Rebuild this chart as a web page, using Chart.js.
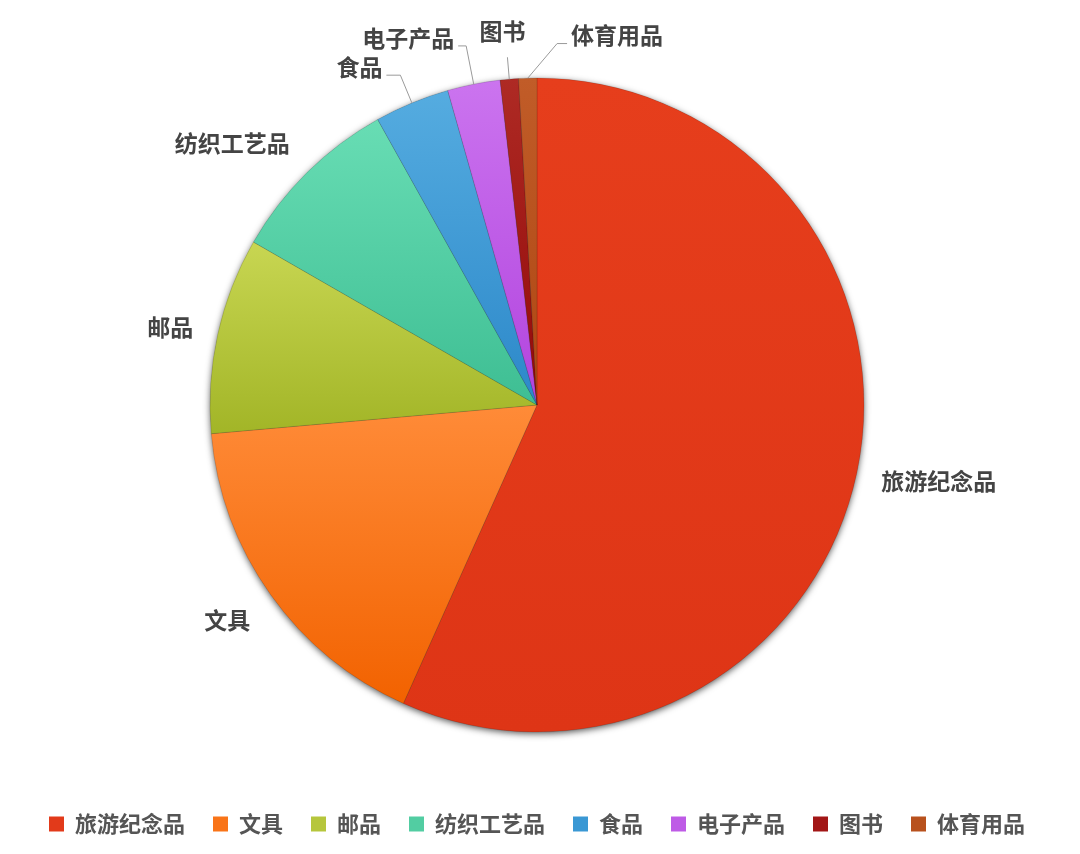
<!DOCTYPE html>
<html>
<head>
<meta charset="utf-8">
<script src="https://cdn.jsdelivr.net/npm/chart.js@4.4.1/dist/chart.umd.min.js"></script>
<style>
  html, body { margin: 0; background: #fff; }
</style>
</head>
<body>
<canvas id="pieChart" width="1080" height="854"></canvas>
<script>
const categories = ['旅游纪念品', '文具', '邮品', '纺织工艺品', '食品', '电子产品', '图书', '体育用品'];
const shares = [56.7, 16.9, 9.7, 8.6, 3.7, 2.6, 0.9, 0.9];

const topColors = ['#E63E1C', '#FF8B38', '#C8D652', '#68DDB4', '#55ACE0', '#CB74EF', '#AE2A24', '#C15C28'];
const bottomColors = ['#DE3516', '#F26200', '#A2B527', '#3EBE93', '#2C88C9', '#B244DE', '#930909', '#AE4713'];
const legendColors = ['#E23A1A', '#F97418', '#B6C63C', '#52CDA2', '#3A98D4', '#BE5BE6', '#A21616', '#B8511D'];

const PIE_R = 327;
const FONT = '"Noto Sans CJK SC", "Noto Sans", sans-serif';

// leader lines for the thin slices at the top
const labelLines = {
  4: { r: 357, h: -14 },
  5: { r: 366, h: -8 },
  6: { r: 349, h: 0, up: true },
  7: { r: 362, turn: 4.8, h: 10 }
};

const total = shares.reduce((a, b) => a + b, 0);

// vertical extent of a slice, relative to the centre
const sliceSpan = (i) => {
  const before = shares.slice(0, i).reduce((a, b) => a + b, 0);
  const a0 = -Math.PI / 2 + 2 * Math.PI * before / total;
  const a1 = a0 + 2 * Math.PI * shares[i] / total;
  const ys = [0, Math.sin(a0), Math.sin(a1)];
  if (a0 < Math.PI / 2 && a1 > Math.PI / 2) ys.push(1);
  if (a0 < Math.PI * 1.5 && a1 > Math.PI * 1.5) ys.push(-1);
  return [Math.min(...ys) * PIE_R, Math.max(...ys) * PIE_R];
};

const sliceFill = (c) => {
  const i = c.dataIndex;
  const area = c.chart.chartArea;
  if (i === undefined || !area) return bottomColors[i] || '#ccc';
  const cy = (area.top + area.bottom) / 2;
  const [y0, y1] = sliceSpan(i);
  const g = c.chart.ctx.createLinearGradient(0, cy + y0, 0, cy + y1);
  g.addColorStop(0, topColors[i]);
  g.addColorStop(1, bottomColors[i]);
  return g;
};

const pieShadow = {
  id: 'pieShadow',
  beforeDatasetsDraw(chart) {
    const arc = chart.getDatasetMeta(0).data[0];
    if (!arc) return;
    const { ctx } = chart;
    ctx.save();
    ctx.beginPath();
    ctx.arc(arc.x, arc.y, arc.outerRadius - 0.5, 0, Math.PI * 2);
    ctx.shadowColor = 'rgba(0,0,0,0.7)';
    ctx.shadowBlur = 7;
    ctx.shadowOffsetY = 2;
    ctx.fillStyle = '#666';
    ctx.fill();
    ctx.restore();
  }
};

const outLabels = {
  id: 'outLabels',
  afterDatasetsDraw(chart) {
    const { ctx } = chart;
    const arcs = chart.getDatasetMeta(0).data;
    const halfH = 11.5;
    ctx.save();
    ctx.font = 'bold 23px ' + FONT;
    ctx.fillStyle = '#444';
    arcs.forEach((arc, i) => {
      const mid = (arc.startAngle + arc.endAngle) / 2;
      const R = arc.outerRadius;
      const text = chart.data.labels[i];
      const line = labelLines[i];
      if (!line) {
        const c = Math.cos(mid), s = Math.sin(mid);
        const x = arc.x + c * (R + 25);
        const y = arc.y + s * (R + 25);
        const dy = Math.abs(s) < 0.4 ? halfH * s : halfH * Math.sign(s);
        ctx.textAlign = c >= 0 ? 'left' : 'right';
        ctx.textBaseline = 'middle';
        ctx.fillText(text, x, y + dy);
        return;
      }
      const a = mid + (line.turn || 0) * Math.PI / 180;
      const x0 = arc.x + Math.cos(mid) * R;
      const y0 = arc.y + Math.sin(mid) * R;
      const x1 = arc.x + Math.cos(a) * line.r;
      const y1 = arc.y + Math.sin(a) * line.r;
      const x2 = x1 + line.h;
      ctx.beginPath();
      ctx.moveTo(x0, y0);
      ctx.lineTo(x1, y1);
      ctx.lineTo(x2, y1);
      ctx.strokeStyle = '#9a9a9a';
      ctx.lineWidth = 1;
      ctx.stroke();
      if (line.up) {
        ctx.textAlign = 'center';
        ctx.textBaseline = 'bottom';
        ctx.fillText(text, x1 - 5, y1 - 14);
      } else {
        ctx.textAlign = line.h < 0 ? 'right' : 'left';
        ctx.textBaseline = 'middle';
        ctx.fillText(text, x2 + (line.h < 0 ? -4 : 4), y1 - 8);
      }
    });
    ctx.restore();
  }
};

new Chart(document.getElementById('pieChart').getContext('2d'), {
  type: 'pie',
  data: {
    labels: categories,
    datasets: [{
      data: shares,
      backgroundColor: sliceFill,
      borderColor: 'rgba(0,0,0,0.12)',
      borderWidth: 1,
      radius: PIE_R
    }]
  },
  options: {
    responsive: false,
    animation: false,
    devicePixelRatio: 1,
    layout: { padding: { top: 25, bottom: 9, left: 0, right: 6 } },
    plugins: {
      tooltip: { enabled: false },
      legend: {
        position: 'bottom',
        labels: {
          boxWidth: 15,
          boxHeight: 15,
          padding: 28,
          color: '#555',
          font: { size: 22, weight: 'bold', family: FONT },
          generateLabels(chart) {
            const items = Chart.overrides.doughnut.plugins.legend.labels.generateLabels(chart);
            items.forEach((it, i) => {
              it.fillStyle = legendColors[i];
              it.strokeStyle = legendColors[i];
              it.lineWidth = 0;
            });
            return items;
          }
        }
      }
    }
  },
  plugins: [pieShadow, outLabels]
});
</script>
</body>
</html>
